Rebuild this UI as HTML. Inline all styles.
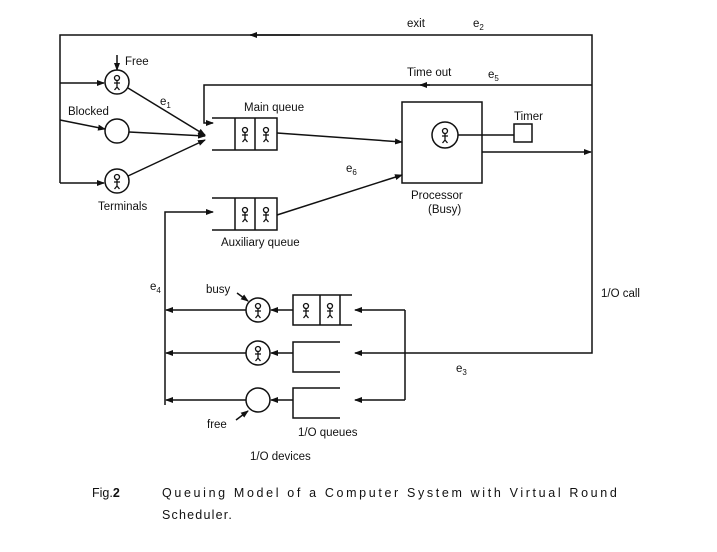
<!DOCTYPE html>
<html><head><meta charset="utf-8"><style>
html,body{margin:0;padding:0;background:#fff;}
svg{display:block;}
text{font-family:"Liberation Sans",sans-serif;fill:#111;}
</style></head><body>
<svg width="717" height="552" viewBox="0 0 717 552" xmlns="http://www.w3.org/2000/svg">
<defs>
<marker id="a" markerWidth="8" markerHeight="6" refX="7" refY="3" orient="auto" markerUnits="userSpaceOnUse"><path d="M0,0 L8,3 L0,6 z" fill="#111"/></marker>
<g id="p" stroke="#111" stroke-width="1.3" fill="none"><circle cx="0" cy="-4" r="2.5"/><path d="M0,-1.5 V5 M-3,1 H3 M0,5 L-2.5,8 M0,5 L2.5,8"/></g>
</defs>
<g stroke="#111" stroke-width="1.5" fill="none">
<path d="M592,152 V35 H60 V183" />
<path d="M300,35 H250" marker-end="url(#a)"/>
<path d="M60,83 H104" marker-end="url(#a)"/>
<path d="M60,120 L105,129" marker-end="url(#a)"/>
<path d="M60,183 H104" marker-end="url(#a)"/>
<path d="M117,55 V70" marker-end="url(#a)"/>
<circle cx="117" cy="82" r="12"/>
<circle cx="117" cy="131" r="12"/>
<circle cx="117" cy="181" r="12"/>
<path d="M128,88 L205,135" marker-end="url(#a)"/>
<path d="M129,132 L205,136" marker-end="url(#a)"/>
<path d="M128,176 L205,140" marker-end="url(#a)"/>
<path d="M592,85 H204 V123 H213" marker-end="url(#a)"/>
<path d="M430,85 H420" marker-end="url(#a)"/>
<path d="M212,118 H277 V150 H212 M235,118 V150 M255,118 V150"/>
<path d="M277,133 L402,142" marker-end="url(#a)"/>
<path d="M212,198 H277 V230 H212 M235,198 V230 M255,198 V230"/>
<path d="M277,215 L402,175" marker-end="url(#a)"/>
<path d="M165,405 V212 H213" marker-end="url(#a)"/>
<rect x="402" y="102" width="80" height="81"/>
<circle cx="445" cy="135" r="13"/>
<path d="M458,135 H514"/>
<rect x="514" y="124" width="18" height="18"/>
<path d="M482,152 H591" marker-end="url(#a)"/>
<path d="M592,152 V353 H405"/>
<path d="M405,310 V400"/>
<path d="M405,310 H355" marker-end="url(#a)"/>
<path d="M405,353 H355" marker-end="url(#a)"/>
<path d="M405,400 H355" marker-end="url(#a)"/>
<path d="M352,295 H293 V325 H352 M320,295 V325 M340,295 V325"/>
<path d="M340,342 H293 V372 H340"/>
<path d="M340,388 H293 V418 H340"/>
<path d="M293,310 H271" marker-end="url(#a)"/>
<path d="M293,353 H271" marker-end="url(#a)"/>
<path d="M293,400 H271" marker-end="url(#a)"/>
<circle cx="258" cy="310" r="12"/>
<circle cx="258" cy="353" r="12"/>
<circle cx="258" cy="400" r="12"/>
<path d="M246,310 H166" marker-end="url(#a)"/>
<path d="M246,353 H166" marker-end="url(#a)"/>
<path d="M246,400 H166" marker-end="url(#a)"/>
<path d="M237,293 L248,301" marker-end="url(#a)"/>
<path d="M236,420 L248,411" marker-end="url(#a)"/>
</g>
<use href="#p" x="117" y="82"/><use href="#p" x="117" y="181"/>
<use href="#p" x="245" y="134"/><use href="#p" x="266" y="134"/>
<use href="#p" x="245" y="214"/><use href="#p" x="266" y="214"/>
<use href="#p" x="445" y="135"/>
<use href="#p" x="306" y="310"/><use href="#p" x="330" y="310"/>
<use href="#p" x="258" y="310"/><use href="#p" x="258" y="353"/>
<g font-size="11.5">
<text x="407" y="27">exit</text><text x="473" y="27">e<tspan font-size="8" dy="3">2</tspan></text>
<text x="125" y="65">Free</text>
<text x="160" y="105">e<tspan font-size="8" dy="3">1</tspan></text>
<text x="68" y="115">Blocked</text>
<text x="98" y="210">Terminals</text>
<text x="244" y="111">Main queue</text>
<text x="407" y="76">Time out</text><text x="488" y="78">e<tspan font-size="8" dy="3">5</tspan></text>
<text x="514" y="120">Timer</text>
<text x="346" y="172">e<tspan font-size="8" dy="3">6</tspan></text>
<text x="411" y="199">Processor</text><text x="428" y="213">(Busy)</text>
<text x="221" y="246">Auxiliary queue</text>
<text x="150" y="290">e<tspan font-size="8" dy="3">4</tspan></text>
<text x="206" y="293">busy</text>
<text x="601" y="297">1/O call</text>
<text x="456" y="372">e<tspan font-size="8" dy="3">3</tspan></text>
<text x="207" y="428">free</text>
<text x="298" y="436">1/O queues</text>
<text x="250" y="460">1/O devices</text>
</g>
<g font-size="12.5">
<text x="92" y="497">Fig.<tspan font-weight="bold">2</tspan></text>
<text x="162" y="497" letter-spacing="1.2" textLength="456" lengthAdjust="spacing">Queuing Model of a Computer System with Virtual Round</text>
<text x="162" y="519" letter-spacing="1.2">Scheduler.</text>
</g>
</svg>
</body></html>
